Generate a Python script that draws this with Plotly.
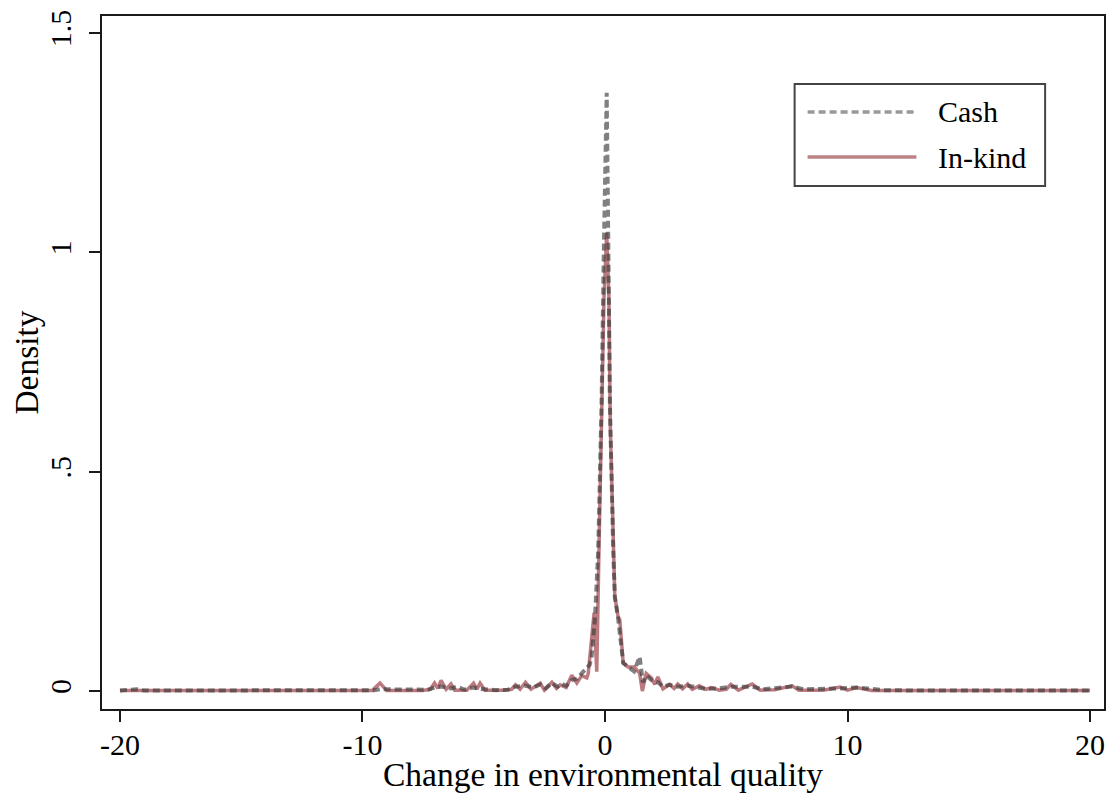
import plotly.graph_objects as go

# ---- data ----
cash_x = [-20, -19.3, -19, -17, -15, -13, -11, -10, -9.5, -9.28, -8, -7.3, -7.03, -6.76, -6.35, -6.08,
          -5.8, -5.42, -5.15, -4.5, -4.0, -3.69, -3.28, -2.95, -2.67, -2.45, -2.19, -1.95, -1.78, -1.6,
          -1.37, -1.16, -0.96, -0.82, -0.63, -0.55, -0.41, -0.28, -0.14, -0.05, 0.07, 0.14, 0.2, 0.34,
          0.405, 0.54, 0.75, 0.95, 1.2, 1.43, 1.56, 1.70, 1.91, 2.18, 2.39, 2.66, 3.0, 3.41, 3.89, 4.16,
          4.71, 5.19, 6.07, 6.5, 7.71, 8.2, 9.69, 10.37, 10.8, 11.5, 13, 15, 17, 20]
cash_y = [0.001, 0.004, 0.001, 0.001, 0.001, 0.0015, 0.001, 0.001, 0.002, 0.004, 0.002, 0.003, 0.008,
          0.010, 0.006, 0.010, 0.003, 0.008, 0.005, 0.002, 0.003, 0.010, 0.012, 0.008, 0.015, 0.006,
          0.018, 0.010, 0.016, 0.012, 0.025, 0.028, 0.040, 0.050, 0.060, 0.078, 0.170, 0.320, 0.660,
          1.000, 1.364, 1.000, 0.660, 0.320, 0.215, 0.166, 0.064, 0.055, 0.045, 0.078, 0.020, 0.035,
          0.025, 0.020, 0.010, 0.014, 0.010, 0.012, 0.008, 0.005, 0.006, 0.010, 0.010, 0.004, 0.010,
          0.004, 0.006, 0.008, 0.006, 0.002, 0.001, 0.001, 0.001, 0.001]

inkind_x = [-20, -19, -17, -15, -13, -11, -9.6, -9.28, -9.0, -7.5, -7.2, -7.03, -6.9, -6.76, -6.55,
            -6.35, -6.2, -5.7, -5.42, -5.28, -5.15, -4.95, -4.2, -3.85, -3.69, -3.5, -3.28, -3.05,
            -2.85, -2.67, -2.5, -2.19, -2.0, -1.85, -1.6, -1.37, -1.16, -0.96, -0.75, -0.69, -0.45,
            -0.34, -0.25, -0.14, -0.04, 0.07, 0.16, 0.22, 0.34, 0.405, 0.54, 0.61, 0.75, 0.95, 1.21,
            1.43, 1.54, 1.70, 1.91, 2.05, 2.18, 2.39, 2.66, 2.85, 3.0, 3.2, 3.41, 3.6, 3.89, 4.16, 4.4,
            4.71, 5.0, 5.19, 5.5, 6.07, 6.4, 7.0, 7.71, 8.0, 9.0, 9.69, 10.0, 10.37, 11, 13, 15, 17, 20]
inkind_y = [0.001, 0.001, 0.001, 0.001, 0.001, 0.001, 0.001, 0.018, 0.001, 0.001, 0.004, 0.018, 0.006,
            0.024, 0.004, 0.016, 0.002, 0.002, 0.018, 0.004, 0.018, 0.002, 0.002, 0.004, 0.014, 0.004,
            0.020, 0.004, 0.012, 0.018, 0.002, 0.020, 0.006, 0.014, 0.008, 0.036, 0.018, 0.035, 0.030,
            0.040, 0.178, 0.044, 0.320, 0.620, 0.900, 1.045, 0.900, 0.600, 0.320, 0.215, 0.170, 0.162,
            0.064, 0.055, 0.055, 0.040, 0.000, 0.040, 0.030, 0.015, 0.032, 0.005, 0.015, 0.006, 0.016,
            0.005, 0.016, 0.004, 0.012, 0.004, 0.008, 0.002, 0.004, 0.015, 0.002, 0.016, 0.002, 0.003,
            0.012, 0.002, 0.002, 0.009, 0.002, 0.008, 0.001, 0.001, 0.001, 0.001, 0.001]

series_names = ["Cash", "In-kind"]
x_tickvals = [-20, -10, 0, 10, 20]
x_ticktext = ["-20", "-10", "0", "10", "20"]
y_tickvals = [0, 0.5, 1, 1.5]
y_ticktext = ["0", ".5", "1", "1.5"]
x_title = "Change in environmental quality"
y_title = "Density"

FONT = "Liberation Serif"
CASH_COLOR = "rgba(60,60,60,0.65)"
INKIND_COLOR = "rgba(150,50,58,0.65)"
CASH_DASH = "7px,4px"

fig = go.Figure()
fig.add_trace(go.Scatter(x=inkind_x, y=inkind_y, mode="lines", name=series_names[1],
                         line=dict(color=INKIND_COLOR, width=3.5), showlegend=False))
fig.add_trace(go.Scatter(x=cash_x, y=cash_y, mode="lines", name=series_names[0],
                         line=dict(color=CASH_COLOR, width=4, dash=CASH_DASH), showlegend=False))

# custom legend (box, line samples, labels) in plot-area fractions (plot area 102..1106 px)
PW = 1004.0
def fx(px):
    return (px - 102) / PW
box = dict(x0=fx(796), x1=fx(1047), y0=0.7547, y1=0.9019)
fig.add_shape(type="rect", xref="paper", yref="paper", **box,
              line=dict(color="#444444", width=2), fillcolor="white", layer="above")
legend_rows = [(0.8615, "rgba(85,85,85,0.6)", CASH_DASH, series_names[0]),
               (0.7965, "rgba(142,48,52,0.6)", "solid", series_names[1])]
for yy, col, dash, label in legend_rows:
    fig.add_shape(type="line", xref="paper", yref="paper", x0=fx(809), x1=fx(918), y0=yy, y1=yy,
                  line=dict(color=col, width=3.5, dash=dash), layer="above")
    fig.add_annotation(xref="paper", yref="paper", x=fx(938), y=yy, text=label, showarrow=False,
                       xanchor="left", yanchor="middle", font=dict(family=FONT, size=30, color="black"))

axis_common = dict(showline=True, linecolor="#1a1a1a", linewidth=2, mirror=True,
                   ticks="outside", ticklen=11, tickwidth=1.5, tickcolor="#1a1a1a",
                   showgrid=False, zeroline=False, ticklabeloverflow="allow",
                   tickfont=dict(family=FONT, size=30, color="black"))

# the page body has an 8px margin; keep the page within the visible window
fig.update_layout(
    width=1100, height=785,
    margin=dict(l=94, r=2, t=8, b=84),
    paper_bgcolor="white", plot_bgcolor="white",
    font=dict(family=FONT, color="black"),
    xaxis=dict(range=[-20.741, 20.576], tickvals=x_tickvals, ticktext=x_ticktext,
               title=dict(text=x_title, font=dict(family=FONT, size=33.5), standoff=4),
               ticklabelstandoff=-3, **axis_common),
    yaxis=dict(range=[-0.041, 1.539], tickvals=y_tickvals, ticktext=y_ticktext, tickangle=-90,
               title=dict(text=y_title, font=dict(family=FONT, size=33.5), standoff=2),
               ticklabelstandoff=6, **axis_common),
)

fig.write_html("out.html")
